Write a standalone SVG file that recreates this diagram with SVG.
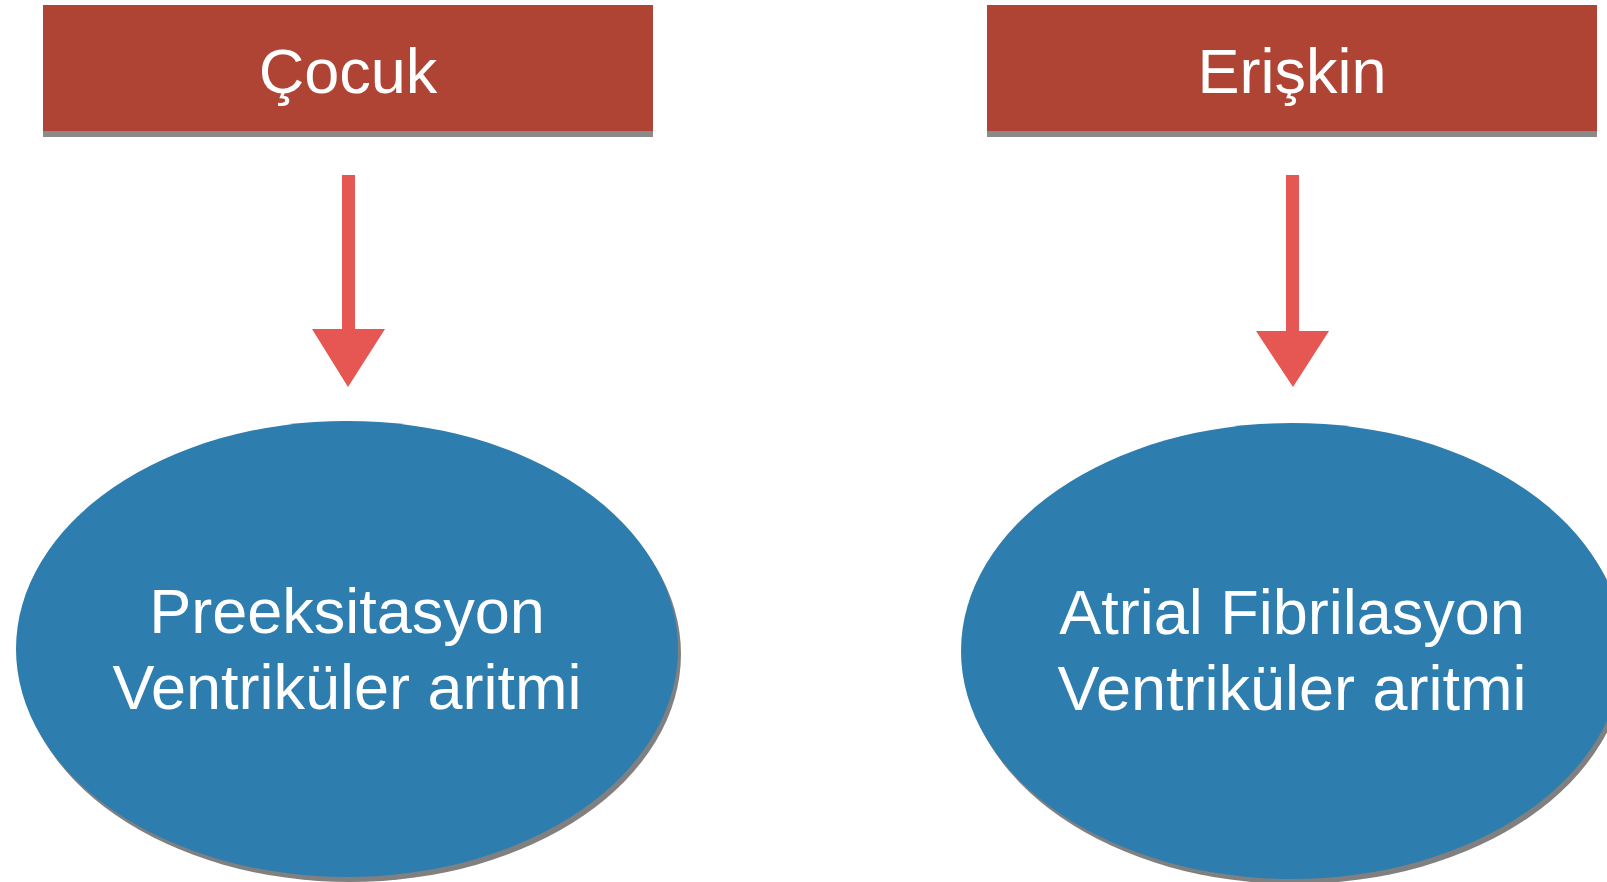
<svg xmlns="http://www.w3.org/2000/svg" width="1607" height="882" viewBox="0 0 1607 882">
  <style>
    .box { fill: #b04434; }
    .boxshadow { fill: #8a8a8a; }
    .oval { fill: #2e7daf; }
    .ovalshadow { fill: #808080; }
    .arrow { fill: #e65652; }
    .lbl { font-family: "Liberation Sans", Arial, sans-serif; font-size: 63px; fill: #ffffff; text-anchor: middle; }
  </style>
  <rect width="1607" height="882" fill="#ffffff"/>
  <g id="cocuk">
    <rect class="boxshadow" x="43" y="8" width="610" height="129"/>
    <rect class="box" x="43" y="5" width="610" height="126"/>
    <text class="lbl" x="348" y="93">Çocuk</text>
  </g>
  <g id="eriskin">
    <rect class="boxshadow" x="987" y="8" width="610" height="129"/>
    <rect class="box" x="987" y="5" width="610" height="126"/>
    <text class="lbl" x="1292" y="93">Erişkin</text>
  </g>
  <g id="connectors">
    <path class="arrow" d="M342,175 L355,175 L355,329 L385,329 L348,387 L312,329 L342,329 Z"/>
    <path class="arrow" d="M1286,175 L1299,175 L1299,331 L1329,331 L1293,387 L1256,331 L1286,331 Z"/>
  </g>
  <g id="preeksitasyon">
    <ellipse class="ovalshadow" cx="350" cy="654" rx="331" ry="228"/>
    <ellipse class="oval" cx="347" cy="649" rx="331" ry="228"/>
    <text class="lbl" x="347" y="633">Preeksitasyon</text>
    <text class="lbl" x="347" y="709">Ventriküler aritmi</text>
  </g>
  <g id="atrial">
    <ellipse class="ovalshadow" cx="1295" cy="656" rx="331" ry="228"/>
    <ellipse class="oval" cx="1292" cy="651" rx="331" ry="228"/>
    <text class="lbl" x="1292" y="634">Atrial Fibrilasyon</text>
    <text class="lbl" x="1292" y="710">Ventriküler aritmi</text>
  </g>
</svg>
